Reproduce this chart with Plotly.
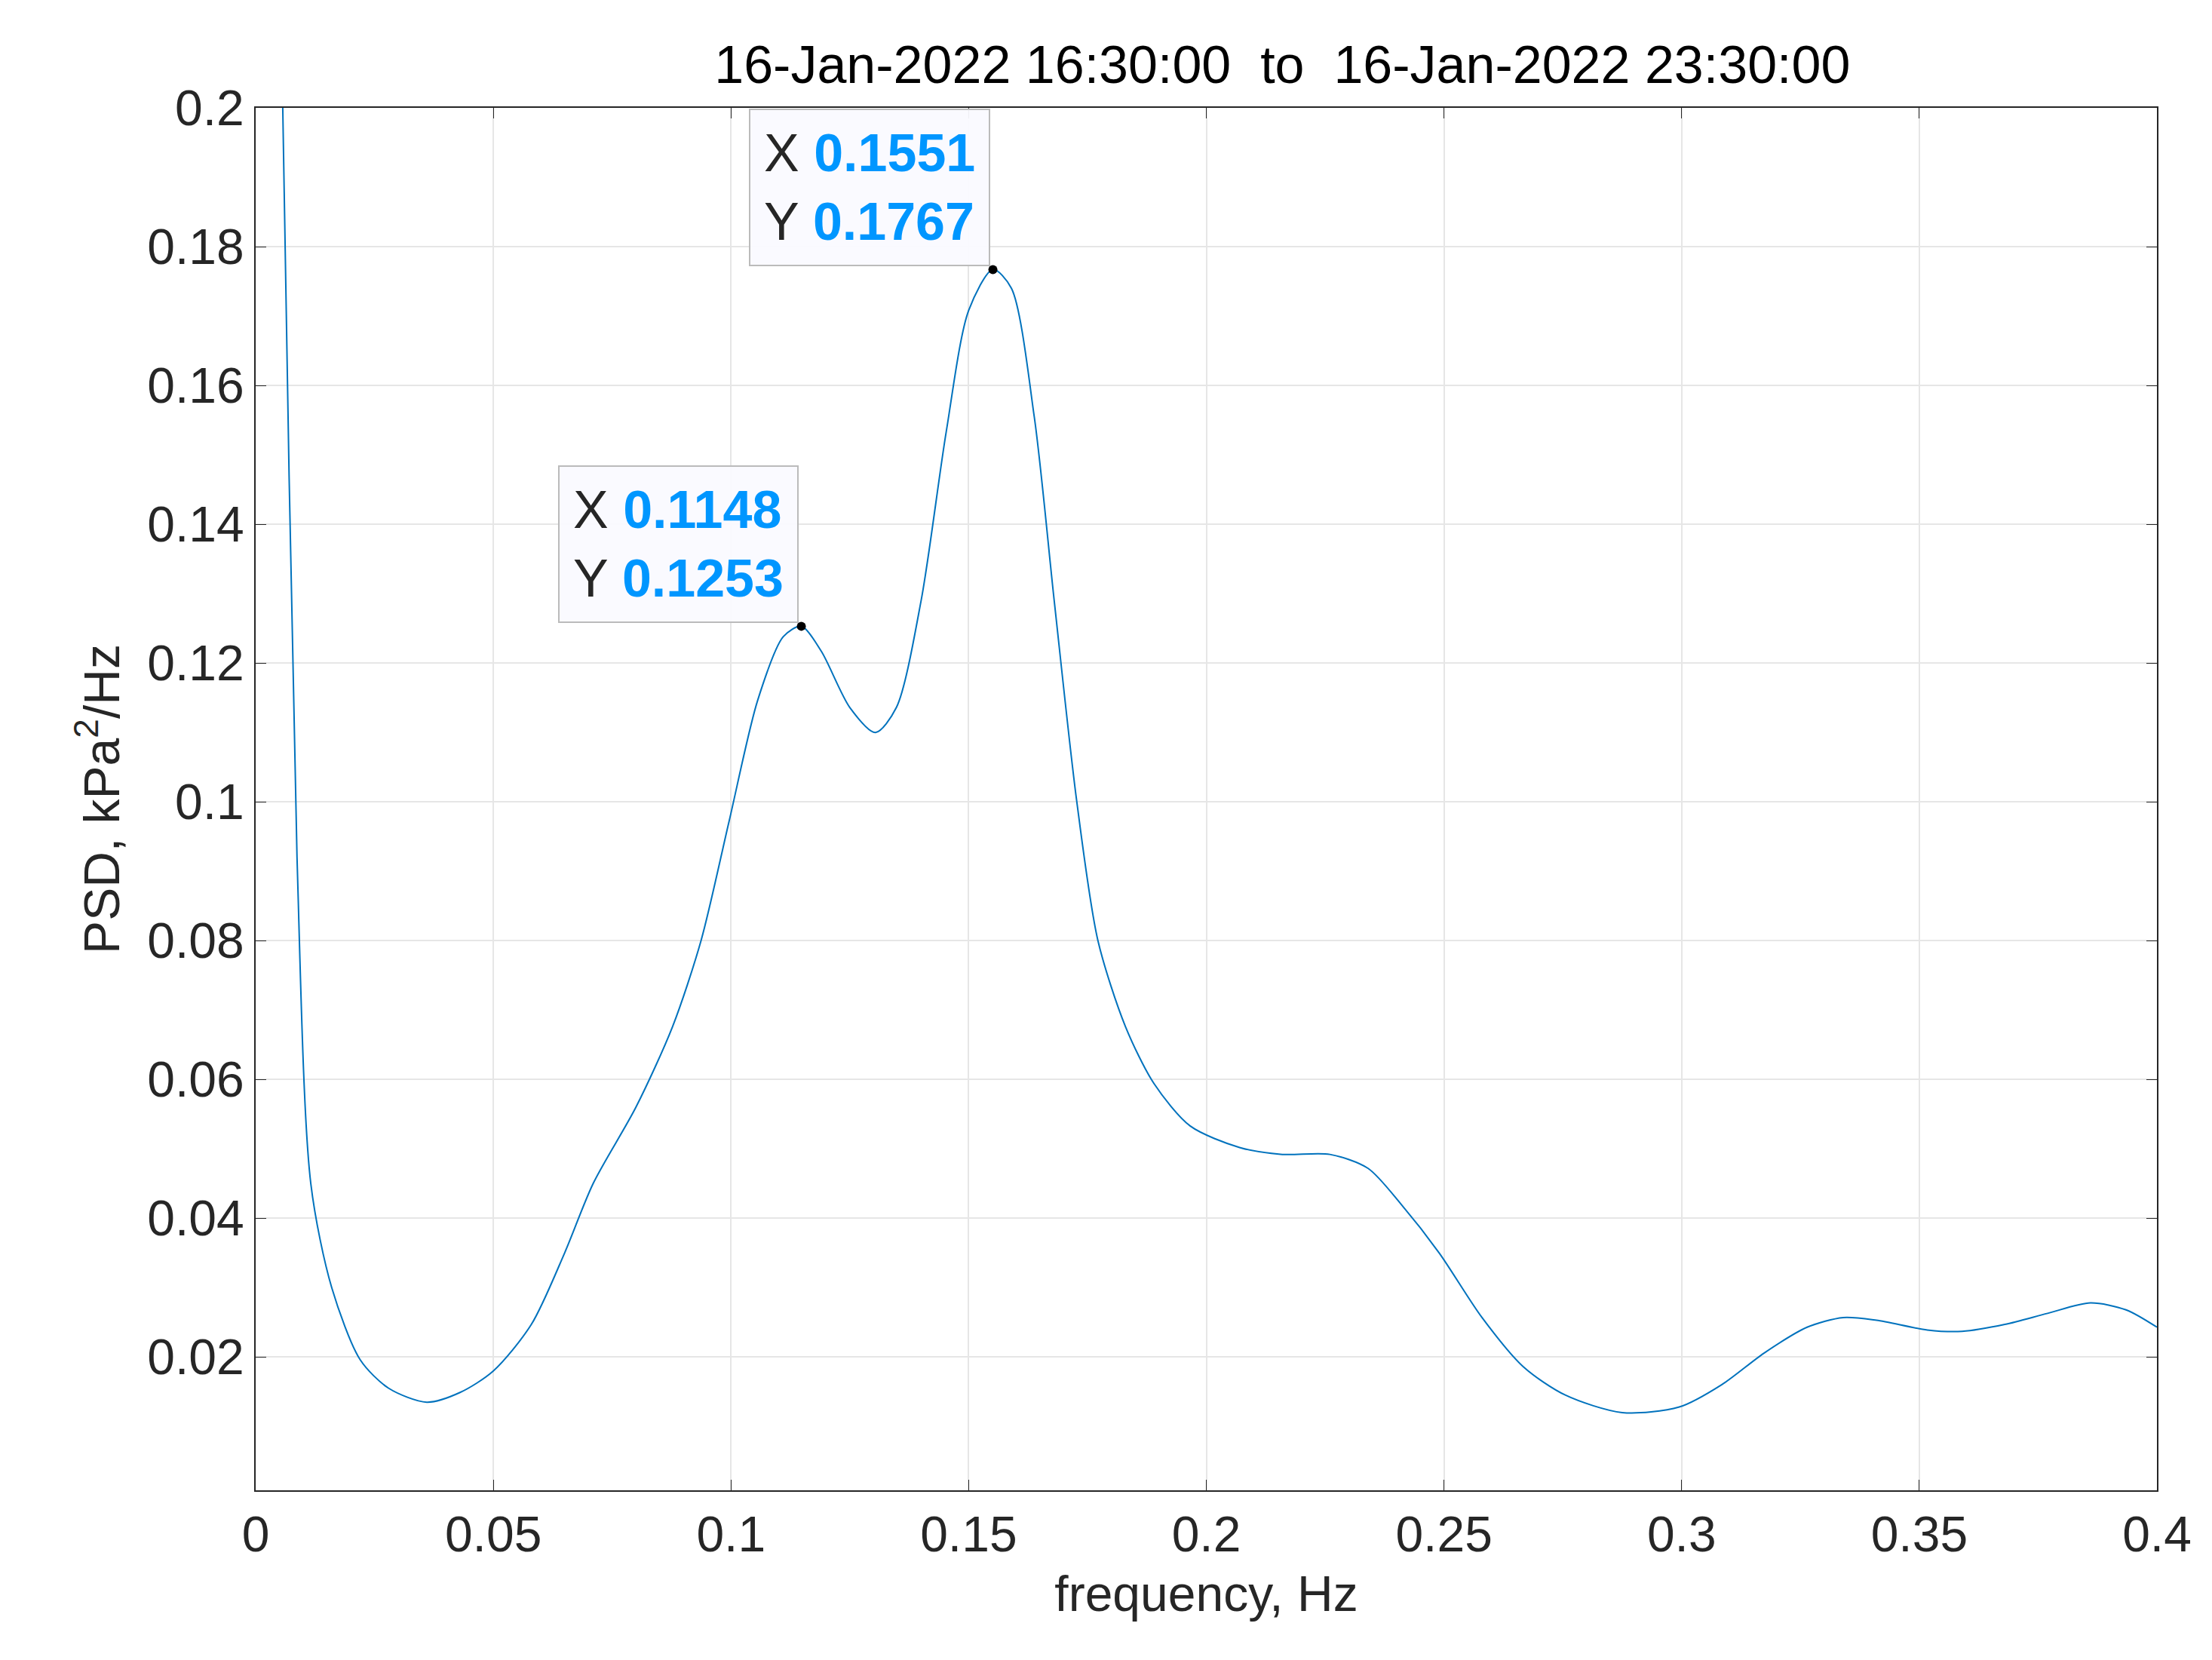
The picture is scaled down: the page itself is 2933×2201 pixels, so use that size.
import plotly.graph_objects as go

freq = [0.004,0.0057,0.0087,0.0116,0.016,0.022,0.028,0.036,0.043,0.050,0.058,0.065,0.071,0.080,0.0877,0.0937,0.0996,0.1056,0.111,0.1148,0.119,0.125,0.1304,0.1348,0.140,0.1453,0.150,0.1551,0.159,0.1638,0.168,0.1727,0.1772,0.183,0.189,0.1966,0.207,0.216,0.226,0.234,0.241,0.249,0.258,0.2667,0.2756,0.2875,0.2995,0.3084,0.3174,0.3264,0.334,0.341,0.3517,0.359,0.368,0.377,0.386,0.3935,0.400]
psd = [0.26,0.20,0.092,0.045,0.030,0.0196,0.0155,0.0135,0.0149,0.018,0.0247,0.035,0.045,0.056,0.0676,0.080,0.0972,0.1146,0.1238,0.1253,0.1217,0.1136,0.110,0.1136,0.129,0.1534,0.1708,0.1767,0.174,0.1555,0.129,0.1003,0.080,0.0676,0.0594,0.0533,0.0502,0.0492,0.0492,0.0472,0.042,0.035,0.0257,0.0186,0.0145,0.012,0.0128,0.016,0.0206,0.0243,0.0257,0.0253,0.0239,0.0237,0.0247,0.0263,0.0278,0.0268,0.0243]
tips_x = [0.1148, 0.1551]
tips_y = [0.1253, 0.1767]
xticks = [0,0.05,0.1,0.15,0.2,0.25,0.3,0.35,0.4]
xticklabels = ["0","0.05","0.1","0.15","0.2","0.25","0.3","0.35","0.4"]
yticks = [0.02,0.04,0.06,0.08,0.1,0.12,0.14,0.16,0.18,0.2]
yticklabels = ["0.02","0.04","0.06","0.08","0.1","0.12","0.14","0.16","0.18","0.2"]

FONT = "Liberation Sans, Arial"
fig = go.Figure()
fig.add_trace(go.Scatter(x=freq, y=psd, mode="lines", line=dict(color="#0072BD", width=2, shape="spline", smoothing=0.8), showlegend=False))
fig.add_trace(go.Scatter(x=tips_x, y=tips_y, mode="markers", marker=dict(color="black", size=12), showlegend=False))
for tx, ty in zip(tips_x, tips_y):
    fig.add_annotation(x=tx, y=ty, xref="x", yref="y", showarrow=False, xanchor="right", yanchor="bottom",
        xshift=-4, yshift=4, align="left",
        text=f"X <span style='color:#0096FF'><b>{tx:.4f}</b></span><br>Y <span style='color:#0096FF'><b>{ty:.4f}</b></span>",
        font=dict(family=FONT, size=70, color="#262626"),
        bgcolor="rgba(250,250,255,0.95)", bordercolor="#BBBBBB", borderwidth=2, borderpad=18)

axis_common = dict(showline=True, linecolor="#262626", linewidth=2, mirror="ticks", ticks="inside", ticklen=14,
                   tickcolor="#262626", showgrid=True, gridcolor="#E6E6E6", gridwidth=2, zeroline=False,
                   tickfont=dict(family=FONT, size=66, color="#262626"))
fig.update_xaxes(range=[0,0.4], tickvals=xticks, ticktext=xticklabels, title=dict(text="frequency, Hz", font=dict(size=66, color="#262626", family=FONT), standoff=20), **axis_common)
fig.update_yaxes(range=[0.0008,0.2], tickvals=yticks, ticktext=yticklabels, title=dict(text="PSD, kPa<sup>2</sup>/Hz", font=dict(size=66, color="#262626", family=FONT), standoff=15), **axis_common)
fig.update_layout(width=2933, height=2201, plot_bgcolor="white", paper_bgcolor="white",
    margin=dict(l=331, r=81, t=135, b=233),
    title=dict(text="16-Jan-2022 16:30:00  to  16-Jan-2022 23:30:00", x=0.54, xanchor="center", xref="paper",
               yref="container", y=0.965, yanchor="middle",
               font=dict(family=FONT, size=70, color="black")))
fig.write_html("out.html")
